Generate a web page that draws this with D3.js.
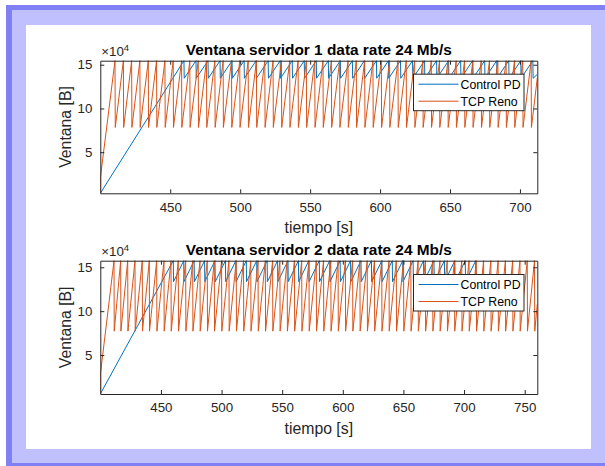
<!DOCTYPE html>
<html><head><meta charset="utf-8">
<script src="https://cdn.jsdelivr.net/npm/d3@7/dist/d3.min.js"></script>
<style>body{margin:0;background:#fff}svg{display:block}text{font-family:"Liberation Sans",Arial,sans-serif}</style>
</head><body>
<script>
// ---------- data (y in bytes, x in seconds) ----------
const titles = ["Ventana servidor 1 data rate 24 Mb/s", "Ventana servidor 2 data rate 24 Mb/s"];
const seriesNames = ["Control PD", "TCP Reno"];
const xDomains = [[400, 712.4], [400, 760.4]];
const yDomains = [[3000, 154600], [5600, 157500]];
const xTicks = [[450, 500, 550, 600, 650, 700], [450, 500, 550, 600, 650, 700, 750]];
const yTicks = [50000, 100000, 150000];
const yTickLabels = ["5", "10", "15"];

// TCP Reno: sawtooth peak times, max and min windows
const renoPeaks1 = [410.5, 416.5, 422.4, 428.3, 434.3, 440.2, 446.2, 452.1, 458.1, 464.0, 470.0, 475.9, 481.9, 487.8, 493.8, 499.7, 505.7, 511.6, 517.6, 523.5, 529.5, 535.4, 541.4, 547.3, 553.3, 559.2, 565.2, 571.1, 577.1, 583.0, 589.0, 594.9, 600.9, 606.8, 612.8, 618.7, 624.7, 630.6, 636.6, 642.5, 648.5, 654.4, 660.4, 666.3, 672.3, 678.2, 684.2, 690.1, 696.1, 702.0, 708.0];
const renoPeaks2 = [411.3, 416.8, 422.6, 428.6, 434.6, 440.4, 446.5, 452.5, 458.3, 464.3, 470.4, 476.2, 482.2, 488.2, 494.0, 500.0, 506.1, 512.1, 518.1, 524.1, 530.1, 536.1, 542.1, 548.1, 554.1, 560.1, 566.1, 572.1, 578.1, 584.1, 590.1, 596.1, 602.1, 608.1, 614.1, 620.1, 626.1, 632.1, 638.1, 644.1, 650.1, 656.1, 662.1, 668.1, 674.1, 680.1, 686.1, 692.1, 698.1, 704.1, 710.1, 716.1, 722.1, 728.1, 734.1, 740.1, 746.1, 752.1, 758.1];
const renoMax = [154600, 157500];
const renoMin = [78300, 77200];
const renoStart = [[400, 3000, 22000], [400, 5600, 29000]]; // t0, first value, after jump
const renoEnd = [[712.4, 135000], [760.4, 108000]];

// Control PD: linear rise then small sawtooth
const pdPeaks1 = [459.8, 468.4, 477.0, 485.6, 494.2, 502.8, 511.4, 520.0, 528.6, 537.2, 545.8, 554.4, 563.0, 571.6, 580.2, 588.8, 597.4, 606.0, 614.6, 623.2, 631.8, 640.4, 649.0, 657.6, 666.2, 674.8, 683.4, 692.0, 700.6, 709.2];
const pdPeaks2 = [460.2, 468.8, 477.4, 486.0, 494.6, 503.2, 511.8, 520.4, 529.0, 537.6, 546.2, 554.8, 563.4, 572.0, 580.6, 589.2, 597.8, 606.4, 615.0, 623.6, 632.2, 640.8, 649.4, 658.0, 666.6, 675.2, 683.8, 692.4, 701.0, 709.6];
const pdMax = [154600, 157500];
const pdMin = [134500, 133600];
const pdStart = [[400, 3000], [400, 5600]];
const pdEnd = [[712.4, 139000], [711.3, 138000]];

// ---------- drawing ----------
const W = 605, H = 466;
const svg = d3.select("body").append("svg").attr("width", W).attr("height", H);
svg.append("rect").attr("x", 6).attr("y", 5).attr("width", 640).attr("height", 500).attr("fill", "#8080f4");
svg.append("rect").attr("x", 12).attr("y", 10).attr("width", 640).attr("height", 453).attr("fill", "#c0c0ff");
svg.append("rect").attr("x", 26).attr("y", 25).attr("width", 565).attr("height", 424).attr("fill", "#ffffff");

const BLUE = "#0072BD", ORANGE = "#D95319", AX = "#262626";
const panels = [{top: 60.7, bottom: 193.3}, {top: 260.7, bottom: 394}];
const left = 100.3, right = 537.3;

function sawtooth(start, peaks, hi, lo, end, jump) {
  const pts = [[start[0], start[1]]];
  if (jump !== undefined) pts.push([start[0] + 0.15, jump]);
  peaks.forEach((p, i) => {
    pts.push([p, hi]);
    pts.push([p + 0.2, lo]);
  });
  pts.push(end);
  return pts;
}

panels.forEach((pn, k) => {
  const x = d3.scaleLinear().domain(xDomains[k]).range([left, right]);
  const y = d3.scaleLinear().domain(yDomains[k]).range([pn.bottom, pn.top]);
  const g = svg.append("g");
  const clipId = "clip" + k;
  svg.append("clipPath").attr("id", clipId).append("rect")
    .attr("x", left).attr("y", pn.top - 1).attr("width", right - left).attr("height", pn.bottom - pn.top + 2);
  const line = d3.line().x(d => x(d[0])).y(d => y(d[1]));
  const pdPeaks = k === 0 ? pdPeaks1 : pdPeaks2;
  const renoPeaks = k === 0 ? renoPeaks1 : renoPeaks2;
  const pd = sawtooth(pdStart[k], pdPeaks, pdMax[k], pdMin[k], pdEnd[k]);
  const reno = sawtooth([renoStart[k][0], renoStart[k][1]], renoPeaks, renoMax[k], renoMin[k], renoEnd[k], renoStart[k][2]);
  const plot = g.append("g").attr("clip-path", `url(#${clipId})`);
  plot.append("path").datum(pd).attr("d", line).attr("fill", "none").attr("stroke", BLUE).attr("stroke-width", 1);
  plot.append("path").datum(reno).attr("d", line).attr("fill", "none").attr("stroke", ORANGE).attr("stroke-width", 1);

  // axes (box with mirrored inward ticks)
  const ax = g.append("g").attr("transform", `translate(0,${pn.bottom})`)
    .call(d3.axisBottom(x).tickValues(xTicks[k]).tickSizeInner(-4).tickSizeOuter(0).tickPadding(9));
  const axT = g.append("g").attr("transform", `translate(0,${pn.top})`)
    .call(d3.axisTop(x).tickValues(xTicks[k]).tickSizeInner(-4).tickSizeOuter(0).tickFormat(""));
  const ay = g.append("g").attr("transform", `translate(${left},0)`)
    .call(d3.axisLeft(y).tickValues(yTicks).tickFormat((d, i) => yTickLabels[i]).tickSizeInner(-4).tickSizeOuter(0).tickPadding(8));
  const ayR = g.append("g").attr("transform", `translate(${right},0)`)
    .call(d3.axisRight(y).tickValues(yTicks).tickFormat("").tickSizeInner(-4).tickSizeOuter(0));
  [ax, axT, ay, ayR].forEach(a => {
    a.select(".domain").attr("stroke", AX).attr("stroke-width", 1);
    a.selectAll(".tick line").attr("stroke", AX);
    a.selectAll("text").attr("fill", AX).style("font-size", "13.3px").style("font-family", "'Liberation Sans',Arial,sans-serif");
  });

  // exponent
  const ex = g.append("text").attr("x", left + 1).attr("y", pn.top - 5).attr("fill", AX).style("font-size", "13.3px");
  ex.append("tspan").text("\u00d710");
  ex.append("tspan").attr("dy", -5).style("font-size", "9.5px").text("4");

  // title
  g.append("text").attr("x", (left + right) / 2).attr("y", pn.top - 5.5).attr("text-anchor", "middle")
    .attr("fill", "#000").style("font-weight", "bold").style("font-size", "15.4px").text(titles[k]);
  // labels
  g.append("text").attr("x", (left + right) / 2).attr("y", pn.bottom + 40).attr("text-anchor", "middle")
    .attr("fill", AX).style("font-size", "15.8px").text("tiempo [s]");
  g.append("text").attr("transform", `translate(71,${(pn.top + pn.bottom) / 2}) rotate(-90)`).attr("text-anchor", "middle")
    .attr("fill", AX).style("font-size", "15.8px").text("Ventana [B]");

  // legend
  const lx = 413.5, ly = pn.top + 13.5 + (k === 1 ? 0.3 : 0), lw = 110.5, lh = 36.5;
  const lg = g.append("g");
  lg.append("rect").attr("x", lx).attr("y", ly).attr("width", lw).attr("height", lh)
    .attr("fill", "#fff").attr("stroke", AX).attr("stroke-width", 1);
  seriesNames.forEach((n, i) => {
    const yy = ly + 10 + i * 17;
    lg.append("line").attr("x1", lx + 5).attr("x2", lx + 45).attr("y1", yy).attr("y2", yy)
      .attr("stroke", i === 0 ? BLUE : ORANGE).attr("stroke-width", 1);
    lg.append("text").attr("x", lx + 47).attr("y", yy + 4.3).attr("fill", "#000").style("font-size", "12.3px").text(n);
  });
});
</script>
</body></html>
